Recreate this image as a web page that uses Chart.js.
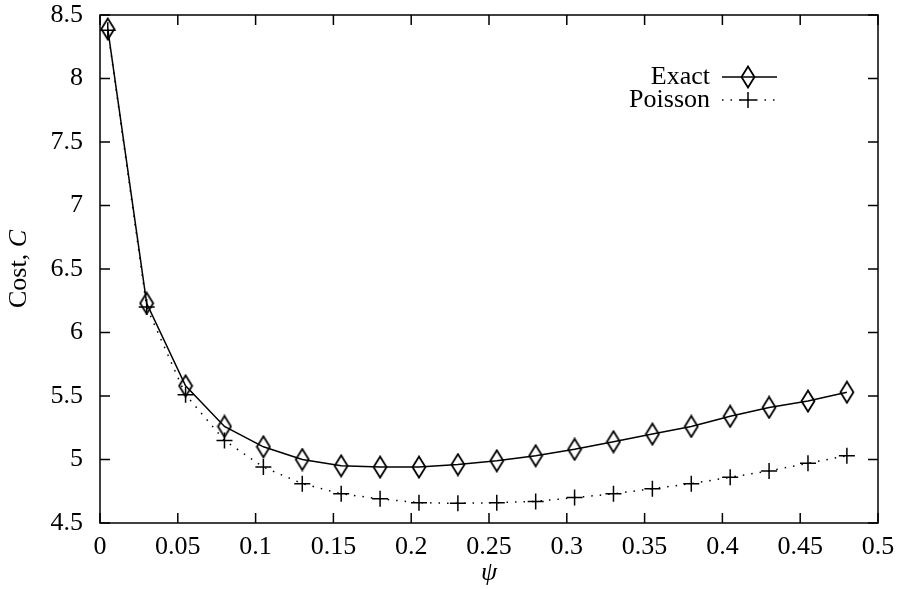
<!DOCTYPE html>
<html>
<head>
<meta charset="utf-8">
<script src="https://cdn.jsdelivr.net/npm/chart.js@4.4.0/dist/chart.umd.min.js"></script>
<style>
  html, body { margin: 0; padding: 0; background: #fff; }
  #wrap { width: 900px; height: 589px; }
</style>
</head>
<body>
<div id="wrap"><canvas id="costChart" width="900" height="589"></canvas></div>
<script>
// psi values and the two cost curves
var psi = [0.005, 0.03, 0.055, 0.08, 0.105, 0.13, 0.155, 0.18, 0.205, 0.23,
           0.255, 0.28, 0.305, 0.33, 0.355, 0.38, 0.405, 0.43, 0.455, 0.48];
var exactCost = [8.39, 6.23, 5.58, 5.26, 5.10, 5.00, 4.95, 4.94, 4.94, 4.96,
                 4.99, 5.03, 5.08, 5.14, 5.20, 5.26, 5.34, 5.41, 5.46, 5.53];
var poissonCost = [8.38, 6.20, 5.51, 5.15, 4.94, 4.81, 4.73, 4.69, 4.66, 4.655,
                   4.66, 4.67, 4.70, 4.73, 4.77, 4.81, 4.86, 4.91, 4.97, 5.03];
var xTicks = [0, 0.05, 0.1, 0.15, 0.2, 0.25, 0.3, 0.35, 0.4, 0.45, 0.5];
var yTicks = [4.5, 5, 5.5, 6, 6.5, 7, 7.5, 8, 8.5];

var FONT = "'Liberation Serif', 'DejaVu Serif', serif";
var FS = 26;

// tall hollow diamond like gnuplot's
function diamondImg() {
  var c = document.createElement('canvas');
  c.width = 16; c.height = 24;
  var g = c.getContext('2d');
  g.strokeStyle = '#000';
  g.lineWidth = 1.8;
  g.beginPath();
  g.moveTo(8, 1.5); g.lineTo(14.5, 12); g.lineTo(8, 22.5); g.lineTo(1.5, 12);
  g.closePath();
  g.stroke();
  return c;
}
var diamond = diamondImg();

function pts(ys) {
  return psi.map(function (x, i) { return { x: x, y: ys[i] }; });
}

// frame, mirrored inward ticks, key and y title
var gnuplotLook = {
  id: 'gnuplotLook',
  afterDraw: function (chart) {
    var g = chart.ctx, a = chart.chartArea;
    var xs = chart.scales.x, ys = chart.scales.y;
    g.save();
    g.strokeStyle = '#000';
    g.lineWidth = 1.5;
    g.strokeRect(a.left, a.top, a.right - a.left, a.bottom - a.top);
    g.beginPath();
    xTicks.forEach(function (v) {
      var p = xs.getPixelForValue(v);
      g.moveTo(p, a.bottom); g.lineTo(p, a.bottom - 10);
      g.moveTo(p, a.top); g.lineTo(p, a.top + 10);
    });
    yTicks.forEach(function (v) {
      var p = ys.getPixelForValue(v);
      g.moveTo(a.left, p); g.lineTo(a.left + 10, p);
      g.moveTo(a.right, p); g.lineTo(a.right - 10, p);
    });
    g.stroke();

    // key
    g.font = FS + 'px ' + FONT;
    g.fillStyle = '#000';
    g.textAlign = 'right';
    g.textBaseline = 'middle';
    var rows = [
      { label: 'Exact', y: 77, dash: [], marker: 'diamond' },
      { label: 'Poisson', y: 100, dash: [1.5, 7], marker: 'cross' }
    ];
    rows.forEach(function (r) {
      g.fillText(r.label, 710, r.y);
      g.setLineDash(r.dash);
      g.lineWidth = 1.5;
      g.beginPath(); g.moveTo(722, r.y); g.lineTo(777, r.y); g.stroke();
      g.setLineDash([]);
      if (r.marker === 'diamond') {
        g.drawImage(diamond, 748 - 8, r.y - 12);
      } else {
        g.beginPath();
        g.moveTo(740, r.y); g.lineTo(756, r.y);
        g.moveTo(748, r.y - 8); g.lineTo(748, r.y + 8);
        g.stroke();
      }
    });

    // y title with italic C
    g.translate(19, (a.top + a.bottom) / 2);
    g.rotate(-Math.PI / 2);
    g.textAlign = 'left';
    var t1 = 'Cost, ';
    g.font = FS + 'px ' + FONT;
    var w1 = g.measureText(t1).width;
    g.font = 'italic ' + FS + 'px ' + FONT;
    var w2 = g.measureText('C').width;
    var start = -(w1 + w2) / 2;
    g.font = FS + 'px ' + FONT;
    g.fillText(t1, start, 0);
    g.font = 'italic ' + FS + 'px ' + FONT;
    g.fillText('C', start + w1, 0);
    g.restore();
  }
};

var ctx = document.getElementById('costChart');
var chart = new Chart(ctx, {
  type: 'line',
  data: {
    datasets: [{
      label: 'Exact',
      data: pts(exactCost),
      borderColor: '#000',
      borderWidth: 1.5,
      pointStyle: diamond,
      pointRadius: 8,
      tension: 0,
      fill: false
    }, {
      label: 'Poisson',
      data: pts(poissonCost),
      borderColor: '#000',
      borderWidth: 1.5,
      borderDash: [1.5, 7],
      pointStyle: 'cross',
      pointRadius: 8,
      pointBorderWidth: 1.5,
      pointBorderColor: '#000',
      tension: 0,
      fill: false
    }]
  },
  options: {
    responsive: false,
    animation: false,
    layout: { padding: { left: 0, right: 22, top: 15, bottom: 0 } },
    plugins: { legend: { display: false }, tooltip: { enabled: false } },
    scales: {
      x: {
        type: 'linear', min: 0, max: 0.5,
        afterBuildTicks: function (s) { s.ticks = xTicks.map(function (v) { return { value: v }; }); },
        afterFit: function (s) { s.height = 66; s.paddingLeft = 0; s.paddingRight = 0; },
        grid: { display: false, drawTicks: false },
        border: { display: false },
        ticks: { color: '#000', padding: 9, maxRotation: 0, font: { family: FONT, size: FS },
                 callback: function (v) { return String(v); } },
        title: { display: true, text: 'ψ', color: '#000', padding: 0,
                 font: { family: FONT, size: FS, style: 'italic' } }
      },
      y: {
        type: 'linear', min: 4.5, max: 8.5,
        afterBuildTicks: function (s) { s.ticks = yTicks.map(function (v) { return { value: v }; }); },
        afterFit: function (s) { s.width = 100; s.paddingTop = 0; s.paddingBottom = 0; },
        grid: { display: false, drawTicks: false },
        border: { display: false },
        ticks: { color: '#000', padding: 17, font: { family: FONT, size: FS },
                 callback: function (v) { return String(v); } }
      }
    }
  },
  plugins: [gnuplotLook]
});
</script>
</body>
</html>
